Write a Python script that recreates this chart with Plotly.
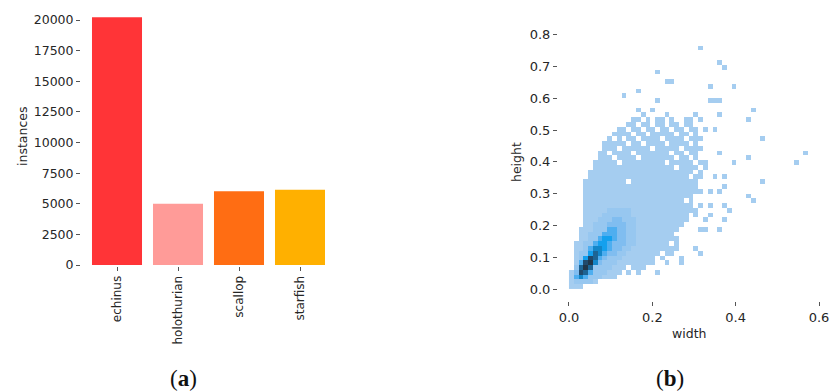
import plotly.graph_objects as go

# ---------------- data: (a) bar chart ----------------
categories = ["echinus", "holothurian", "scallop", "starfish"]
instances = [20220, 5000, 6020, 6150]
bar_colors = ["#ff3437", "#ff9b98", "#ff6d13", "#ffb000"]
bar_ticks = [0, 2500, 5000, 7500, 10000, 12500, 15000, 17500, 20000]

# ---------------- data: (b) 2-D histogram ----------------
bin_w = 0.0115   # width bin size
bin_h = 0.015    # height bin size
n_cols = 51
n_rows = 52
# main body of the histogram: (row, first col, last col), level 1 (lightest)
body_rows = [
    (0, 0, 2), (1, 0, 5), (2, 0, 9), (3, 0, 14), (4, 1, 15), (5, 1, 17),
    (6, 1, 19), (7, 1, 21), (8, 1, 22), (9, 1, 22), (10, 2, 22), (11, 2, 22),
    (12, 2, 22), (13, 3, 23), (14, 3, 24), (15, 3, 24), (16, 3, 25),
    (17, 3, 25), (18, 3, 25), (19, 3, 25), (20, 3, 26), (21, 3, 26),
    (22, 3, 26), (23, 4, 27), (24, 4, 27), (25, 5, 28), (26, 5, 28),
    (27, 6, 26), (28, 6, 26), (29, 7, 27), (30, 7, 26), (31, 8, 27),
    (32, 9, 26), (33, 10, 26), (34, 12, 25),
]
# empty cells inside the body: (col, row)
holes = [
    (11, 3), (13, 3), (12, 4), (18, 6), (19, 7), (21, 9), (22, 11), (24, 18),
    (12, 22), (25, 23), (26, 24), (22, 25), (27, 25), (10, 26), (20, 26),
    (26, 26), (9, 27), (14, 27), (22, 27), (25, 27), (8, 28), (13, 28),
    (21, 28), (24, 28), (10, 29), (17, 29), (23, 29), (12, 30), (15, 30),
    (20, 30), (25, 30), (9, 31), (11, 31), (14, 31), (19, 31), (24, 31),
    (13, 32), (16, 32), (22, 32), (25, 32), (12, 33), (15, 33), (18, 33),
    (21, 33), (24, 33), (14, 34), (17, 34), (20, 34), (23, 34),
]
# isolated single cells: (col, row)
outliers = [
    (18, 3), (20, 5), (23, 5), (23, 6), (27, 7), (26, 8), (27, 12), (28, 12),
    (31, 12), (28, 14), (32, 14), (26, 15), (29, 15), (26, 16), (33, 16),
    (27, 17), (29, 17), (32, 17), (38, 18), (37, 19), (27, 20), (29, 20),
    (31, 20), (32, 21), (40, 22), (30, 23), (32, 23), (34, 26), (47, 26),
    (37, 27), (31, 28), (49, 28), (40, 31), (28, 33), (30, 33),
    (13, 35), (14, 35), (16, 35), (18, 35), (19, 35), (21, 35), (24, 35),
    (25, 35), (27, 35), (37, 35), (15, 36), (20, 36), (26, 36), (31, 36),
    (14, 37), (17, 37), (38, 37), (18, 39), (29, 39), (30, 39), (31, 39),
    (11, 40), (14, 41), (29, 42), (34, 42), (20, 43), (21, 43), (18, 45),
    (32, 46), (31, 47), (27, 50),
]
# slightly denser halo: (row, first col, last col) at level 2 and 3
halo2_rows = [
    (1, 1, 4), (2, 1, 6), (3, 1, 7), (4, 1, 8), (5, 2, 9), (6, 2, 10),
    (7, 2, 11), (8, 3, 12), (9, 3, 13), (10, 4, 13), (11, 4, 13),
    (12, 5, 13), (13, 5, 13), (14, 6, 13), (15, 7, 12), (16, 8, 12),
]
halo3_rows = [
    (5, 5, 6), (6, 5, 7), (7, 6, 9), (8, 6, 10), (9, 7, 11), (10, 7, 11),
    (11, 7, 11), (12, 8, 11), (13, 8, 11), (14, 9, 10),
]
# dense core: (col, row, level)
core_cells = [
    (1, 2, 4), (2, 2, 6), (3, 2, 4),
    (1, 3, 3), (2, 3, 8), (3, 3, 7), (4, 3, 4),
    (2, 4, 7), (3, 4, 9), (4, 4, 7),
    (2, 5, 4), (3, 5, 8), (4, 5, 9), (5, 5, 6),
    (3, 6, 5), (4, 6, 8), (5, 6, 7), (6, 6, 4),
    (4, 7, 5), (5, 7, 7), (6, 7, 6), (7, 7, 4),
    (4, 8, 4), (5, 8, 6), (6, 8, 6), (7, 8, 5), (8, 8, 4),
    (5, 9, 4), (6, 9, 5), (7, 9, 5), (8, 9, 4),
    (6, 10, 4), (7, 10, 5), (8, 10, 5), (9, 10, 4),
    (7, 11, 4), (8, 11, 4), (9, 11, 4),
    (8, 12, 4), (9, 12, 4), (10, 12, 3),
    (9, 13, 3), (10, 13, 3),
]
level_colors = ["#a5cdf0", "#97c7f0", "#80bdf0", "#4eaef0", "#14a0ee",
                "#1386c9", "#1d6494", "#214a6c", "#203548"]
hm_xticks = [0.0, 0.2, 0.4, 0.6]
hm_yticks = [0.0, 0.1, 0.2, 0.3, 0.4, 0.5, 0.6, 0.7, 0.8]

# ---------------- build grid ----------------
z = [[None] * n_cols for _ in range(n_rows)]
for r, c0, c1 in body_rows:
    for c in range(c0, c1 + 1):
        z[r][c] = 1
for c, r in holes:
    z[r][c] = None
for c, r in outliers:
    z[r][c] = 1
for r, c0, c1 in halo2_rows:
    for c in range(c0, c1 + 1):
        z[r][c] = 2
for r, c0, c1 in halo3_rows:
    for c in range(c0, c1 + 1):
        z[r][c] = 3
for c, r, lv in core_cells:
    z[r][c] = lv

n_lv = len(level_colors)
colorscale = [[i / (n_lv - 1), col] for i, col in enumerate(level_colors)]

# the page is shown with body margin removed, figure fills the window
W, H = 831, 392
def px(x):
    return min(1.0, max(0.0, x / W))
def py(y):
    return min(1.0, max(0.0, (H - y) / H))

FONT = "DejaVu Sans"
TXT = "#262626"
TICKC = "#555555"

fig = go.Figure()
fig.add_trace(go.Bar(
    x=categories, y=instances, marker=dict(color=bar_colors, line=dict(width=0)),
    width=0.82, xaxis="x", yaxis="y", showlegend=False,
))
fig.add_trace(go.Heatmap(
    z=z, x0=bin_w / 2, dx=bin_w, y0=bin_h / 2, dy=bin_h,
    zmin=1, zmax=n_lv, colorscale=colorscale, showscale=False,
    xaxis="x2", yaxis="y2", hoverongaps=False,
))

common = dict(showline=False, showgrid=False, zeroline=False, automargin=False,
              ticks="outside", ticklen=4, tickcolor=TICKC, anchor="free",
              ticklabeloverflow="allow")

fig.update_layout(
    template="none",
    xaxis=dict(domain=[px(86.5), px(330.5)], range=[-0.5, 3.5],
               position=py(266), tickangle=-90,
               tickfont=dict(family=FONT, size=12, color=TXT), **common),
    yaxis=dict(domain=[py(265), py(5)], range=[0, 21225],
               position=px(80),
               tickvals=bar_ticks, ticktext=[str(t) for t in bar_ticks],
               tickfont=dict(family=FONT, size=12.5, color=TXT), **common),
    xaxis2=dict(domain=[px(566.9), px(821.1)], range=[-0.005, 0.605],
                position=py(301),
                tickvals=hm_xticks, ticktext=[f"{t:.1f}" for t in hm_xticks],
                tickfont=dict(family=FONT, size=13, color=TXT), **common),
    yaxis2=dict(domain=[py(290.6), py(33.0)], range=[-0.005, 0.805],
                position=px(557),
                tickvals=hm_yticks, ticktext=[f"{t:.1f}" for t in hm_yticks],
                tickfont=dict(family=FONT, size=13, color=TXT), **common),
    width=W, height=H, margin=dict(l=0, r=0, t=0, b=0),
    paper_bgcolor="white", plot_bgcolor="white",
    showlegend=False,
)

ann = [
    dict(text="instances", x=px(22), y=py(137), textangle=-90, size=12.5),
    dict(text="height", x=px(517), y=py(162), textangle=-90, size=12.5),
    dict(text="width", x=px(689), y=py(333), textangle=0, size=12.5),
]
for a in ann:
    fig.add_annotation(text=a["text"], x=a["x"], y=a["y"], xref="paper", yref="paper",
                       showarrow=False, textangle=a["textangle"],
                       xanchor="center", yanchor="middle",
                       font=dict(family=FONT, size=a["size"], color=TXT))
for lab, xc in [("a", 183), ("b", 670)]:
    fig.add_annotation(text=f"(<b>{lab}</b>)", x=px(xc), y=py(378), xref="paper", yref="paper",
                       showarrow=False, xanchor="center", yanchor="middle",
                       font=dict(family="Liberation Serif", size=23, color="#111111"))

fig.write_html("out.html",
               config={"displayModeBar": False},
               post_script="document.body.style.margin='0';document.body.style.overflow='hidden';")
